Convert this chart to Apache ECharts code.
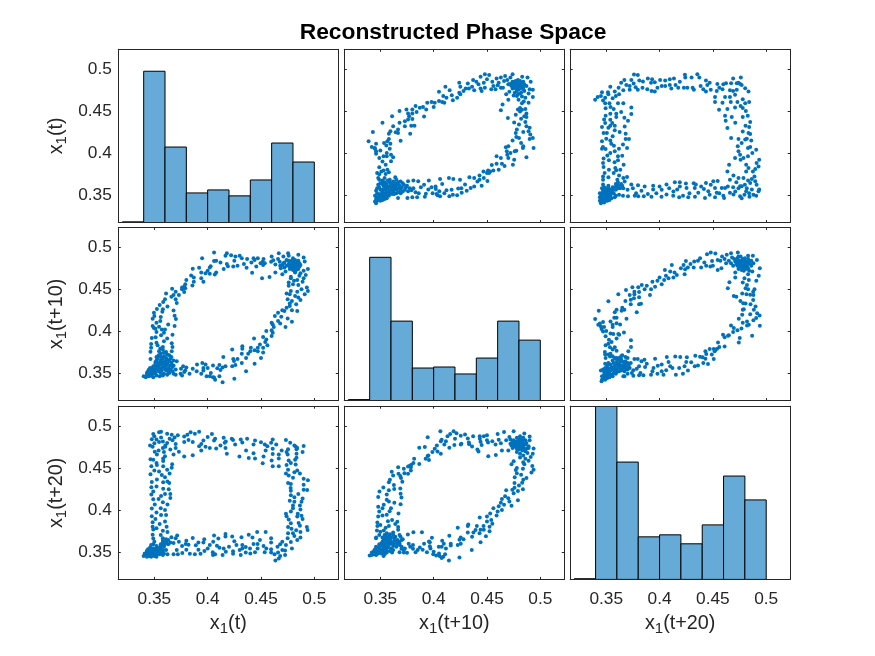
<!DOCTYPE html>
<html><head><meta charset="utf-8">
<script src="https://cdn.jsdelivr.net/npm/echarts@6/dist/echarts.min.js"></script>
<style>html,body{margin:0;padding:0;background:#fff}#c{width:875px;height:656px}</style></head>
<body><div id="c"></div><script>
const tickValues=[0.35,0.4,0.45,0.5];
const axisNames=[['x','(t)'],['x','(t+10)'],['x','(t+20)']];
const binEdges=[.32,.34,.36,.38,.40,.42,.44,.46,.48,.50];
const hist1=[.3178,.4976,.4071,.3523,.3559,.3488,.3678,.4119,.3892];
const hist2=[.3182,.4881,.4119,.3559,.3571,.3488,.3678,.4119,.3892];
const hist3=[.3178,.5238,.4571,.3678,.3702,.3595,.3821,.4404,.4119];
// x(t+10), x(t)
const pairsA=[[.339,.414],[.343,.425],[.352,.436],[.361,.444],[.368,.450],[.3745,.452],[.38,.452],[.383,.456],[.387,.454],[.390,.455],[.394,.460],[.398,.461],[.401,.460],[.405,.462],[.408,.461],[.405,.473],[.411,.479],[.415,.475],[.409,.468],[.412,.466],[.418,.463],[.422,.466],[.424,.484],[.425,.479],[.424,.472],[.425,.470],[.432,.483],[.430,.477],[.433,.477],[.437,.487],[.44,.485],[.444,.491],[.448,.494],[.452,.493],[.447,.484],[.438,.475],[.444,.477],[.448,.478],[.445,.474],[.454,.476],[.455,.485],[.459,.489],[.461,.484],[.458,.476],[.463,.478],[.465,.478],[.463,.490],[.466,.486],[.467,.492],[.470,.482],[.474,.494],[.483,.491],[.488,.490],[.491,.485],
[.373,.438],[.376,.440],[.380,.4405],[.376,.447],[.380,.447],[.391,.4435],[.382,.4325],[.379,.4325],[.373,.432],[.3666,.428],[.3666,.424],[.3644,.4247],[.3594,.426],[.358,.423],[.378,.423],[.369,.4147],[.358,.4167],[.3566,.414],[.3535,.412],[.3556,.409],[.3594,.411],[.3588,.405],[.346,.411],[.342,.407],[.3447,.406],[.346,.402],[.346,.399],[.356,.40],[.356,.396],[.360,.398],[.362,.395],[.349,.394],[.36,.390],[.352,.3897],[.355,.386],[.349,.383],[.353,.379],[.3566,.380],[.358,.377],[.349,.3746],[.354,.370],[.349,.368],[.3588,.368],[.3516,.3635],
[.346,.340],[.345,.342],[.347,.343],[.346,.345],[.348,.344],[.349,.346],[.347,.347],[.345,.349],[.349,.349],[.351,.348],[.352,.350],[.350,.351],[.347,.352],[.353,.347],[.354,.352],[.352,.354],[.355,.350],[.356,.353],[.355,.356],[.358,.354],[.357,.358],[.359,.352],[.360,.356],[.358,.360],[.361,.359],[.362,.354],[.363,.357],[.360,.362],[.362,.361],[.364,.360],[.365,.356],[.367,.358],[.366,.362],[.368,.361],[.369,.356],[.370,.359],[.372,.362],[.355,.360],[.353,.357],[.350,.356],[.349,.359],[.348,.362],[.352,.363],[.356,.363],[.359,.365],[.362,.366],[.365,.368],[.364,.371],
[.376,.3663],[.381,.367],[.3855,.3663],[.3955,.367],[.406,.369],[.4143,.3702],[.4184,.369],[.4247,.368],[.4335,.371],[.438,.370],[.443,.373],[.4467,.378],[.443,.368],[.4504,.3667],[.445,.361],[.451,.379],[.453,.378],[.450,.376],[.452,.376],[.4545,.3857],[.459,.387],[.461,.380],[.4665,.3845],[.4743,.386],[.459,.396],[.463,.394],[.4677,.4067],[.4686,.402],[.469,.398],[.4755,.392],[.4775,.4028],[.476,.402],[.487,.3948],[.4837,.406],[.482,.412],[.484,.408],[.4937,.406],[.474,.415],[.4775,.419],[.477,.424],[.478,.428],[.480,.434],[.4755,.4365],[.487,.432],[.490,.430],[.489,.426],[.4906,.422],[.490,.4167],[.493,.418],[.487,.443],[.477,.4456],[.485,.444],[.4696,.4417],[.463,.451],[.4646,.458],[.470,.4635],[.475,.4686],[.4828,.4595],[.4845,.4615],[.489,.460],[.493,.4667],[.493,.4754],[.481,.4536],[.4828,.4516],[.486,.4524],[.481,.4496],[.487,.447],[.4828,.4675],[.4796,.4635],[.482,.472],
[.3666,.3464],[.3754,.3464],[.380,.347],[.3845,.347],[.3917,.3476],[.3927,.3512],[.395,.3563],[.398,.359],[.4018,.360],[.4028,.351],[.4053,.3544],[.4037,.3496],[.406,.3484],[.4147,.3484],[.422,.3496],[.4263,.3524],[.412,.3556],[.4168,.356],[.423,.3575],[.4294,.3623],[.4347,.3583],[.408,.363],[.376,.3544],[.3792,.3556],[.381,.358],[.3776,.358],
[.471,.482],[.473,.480],[.474,.477],[.475,.483],[.476,.480],[.477,.482],[.477,.477],[.478,.484],[.478,.480],[.479,.478],[.480,.482],[.480,.476],[.481,.480],[.482,.484],[.482,.478],[.483,.481],[.484,.479],[.485,.482],[.476,.472],[.478,.474],[.479,.470],[.481,.471],[.477,.486],[.481,.486],[.484,.485],
[.354,.345],[.351,.345],[.350,.343],[.352,.344],[.356,.346],[.358,.349],[.361,.351],[.363,.351],[.365,.352],[.367,.353],[.369,.352],[.371,.354],[.373,.356],[.374,.359],[.375,.361],[.371,.364],[.369,.366],[.357,.367],[.354,.365],[.353,.361],[.350,.364],[.347,.358],[.346,.355],[.356,.349],[.361,.362],[.364,.364],[.367,.365],
[.383,.353],[.386,.352],[.388,.359],[.391,.362],[.399,.352],[.402,.357],[.410,.352],[.418,.350],[.426,.358],[.431,.355],[.438,.360],[.441,.366],[.447,.370],[.456,.379],[.464,.387],[.470,.394],[.472,.400],[.470,.408],[.480,.418],[.484,.425],[.486,.437],[.482,.441],[.479,.452],[.486,.466],[.489,.471],[.490,.476],[.468,.470],[.472,.490],[.469,.487],[.471,.473],[.478,.468],[.485,.474],[.487,.480],[.474,.485],[.473,.483],[.475,.479],[.476,.485],[.479,.487],[.480,.479],[.483,.477],[.484,.476],
[.345,.405],[.350,.403],[.353,.396],[.351,.378],[.355,.375],[.347,.376],[.348,.370],[.352,.367],[.362,.432],[.368,.436],[.377,.444],[.384,.449],[.393,.452],[.400,.455],[.410,.460],[.417,.469],[.428,.474],[.436,.479],[.442,.482],[.450,.488],[.456,.480],[.460,.481]];
// x(t+20), x(t)
const pairsB=[[.3396,.4635],[.342,.4667],[.346,.4726],[.347,.4627],[.3516,.4726],[.3538,.479],[.358,.4734],[.3616,.478],[.364,.484],[.366,.475],[.3735,.487],[.376,.4937],[.3796,.493],[.3757,.483],[.3688,.4813],[.372,.4754],[.3776,.4786],[.3796,.4754],[.381,.4865],[.3844,.4853],[.389,.489],[.393,.488],[.3885,.476],[.3925,.474],[.3955,.4734],[.398,.478],[.3955,.4845],[.4005,.487],[.4053,.4865],[.4096,.488],[.4135,.489],[.4053,.480],[.4096,.4813],[.415,.4813],[.4175,.478],[.4228,.478],[.426,.4778],[.4238,.4933],[.4241,.490],[.4354,.494],[.4373,.490],[.431,.478],[.4322,.4754],[.4385,.480],[.4435,.4865],[.4448,.4813],[.4435,.4734],[.448,.4754],[.4536,.474],[.4542,.4825],[.4598,.482],[.4623,.4833],[.4671,.4833],[.459,.476],[.452,.4667],[.452,.461],[.4558,.4516],[.459,.460],[.4614,.4667],[.466,.4667],[.4668,.461],[.4636,.4524],[.4614,.4444],[.462,.4385],[.4636,.4298],[.4677,.443],[.4708,.4544],[.4708,.4694],[.4671,.418],
[.4762,.490],[.4724,.4833],[.474,.484],[.4756,.4825],[.477,.4813],[.4803,.4774],[.4834,.4734],[.4724,.4754],[.478,.4643],[.4803,.4595],[.478,.4536],[.4809,.450],[.478,.443],[.4827,.4444],[.478,.4258],[.4806,.4325],[.4834,.4238],[.4818,.417],[.485,.4226],[.474,.4167],[.4803,.416],[.4733,.408],[.474,.402],[.4755,.398],[.4829,.406],[.485,.407],[.4906,.404],[.4708,.394],[.4787,.394],[.4829,.396],[.4934,.392],[.4928,.384],[.4652,.386],[.4812,.386],[.4636,.378],[.4693,.373],[.474,.370],[.4787,.370],[.4812,.378],[.4834,.382],[.4875,.378],[.4897,.381],[.4865,.369],[.4897,.3663],[.485,.3643],[.4934,.3563],[.4928,.3544],[.4906,.349],[.488,.350],[.4865,.3563],[.4812,.3544],[.4818,.358],[.477,.3603],[.474,.358],[.4755,.3603],
[.3695,.3714],[.3673,.366],[.3735,.3623],[.3798,.3615],[.386,.360],[.394,.361],[.400,.360],[.4065,.3623],[.4143,.365],[.419,.365],[.4247,.3635],[.434,.3623],[.4435,.3643],[.4504,.3663],[.4545,.3667],[.452,.3583],[.4583,.3583],[.469,.359],[.4614,.3583],
[.3657,.349],[.3704,.3484],[.3767,.349],[.380,.3484],[.3852,.3484],[.3924,.3476],[.4018,.3476],[.4065,.3504],[.4128,.349],[.4184,.3472],[.422,.349],[.4269,.3472],[.4332,.3476],[.4363,.3524],[.4426,.3464],[.452,.3472],[.4605,.3464],[.4693,.3504],[.4755,.3484],[.4843,.3476],[.394,.3563],[.4165,.3563],[.4253,.3583],[.433,.3583],[.4416,.357],[.4457,.3544],[.4536,.3524],[.4598,.349],[.466,.3524],[.4796,.350],
[.349,.4595],[.353,.4595],[.356,.4655],[.359,.468],[.361,.4595],[.366,.4595],[.3494,.4535],[.357,.4524],[.3538,.4468],[.3494,.4444],[.3594,.4468],[.3594,.443],[.3735,.4544],[.3735,.4464],[.3704,.4385],[.3673,.4317],[.3538,.4397],[.3556,.4357],[.349,.4357],[.3538,.4325],[.358,.4325],[.358,.427],[.3626,.425],[.3682,.423],[.3475,.4238],[.3506,.4238],[.3538,.415],[.346,.414],[.3682,.4167],[.3713,.4167],[.3547,.411],[.3572,.4087],[.3469,.407],[.3494,.4048],[.3619,.4052],[.3657,.410],[.3695,.406],[.3538,.40],[.3475,.3933],[.361,.396],[.365,.3968],[.361,.3913],[.3578,.3889],[.3525,.3913],[.3475,.3833],[.3663,.386],[.3525,.380],[.3585,.382],[.3594,.3794],[.3632,.380],[.3485,.3762],[.347,.372],[.3604,.368],[.347,.368],[.347,.3623],
[.345,.340],[.346,.342],[.347,.344],[.345,.345],[.346,.347],[.348,.346],[.349,.343],[.350,.345],[.347,.349],[.345,.350],[.349,.349],[.351,.348],[.352,.346],[.348,.351],[.346,.352],[.350,.352],[.352,.350],[.354,.349],[.349,.354],[.347,.355],[.351,.355],[.353,.353],[.355,.352],[.357,.352],[.354,.356],[.350,.358],[.352,.358],[.357,.356],[.359,.356],[.356,.359],[.358,.359],[.361,.358],[.360,.361],[.362,.361],[.363,.358],[.365,.361],[.364,.363],[.359,.363],[.361,.365],[.348,.359],[.352,.361],[.359,.349],[.362,.350],
[.346,.405],[.351,.397],[.358,.402],[.350,.417],[.356,.420],[.346,.431],[.352,.430],[.347,.388],[.352,.371],[.357,.376],[.362,.373],[.366,.370],[.348,.440],[.354,.455],[.364,.449],[.367,.442],[.352,.470],[.362,.470],[.349,.466],[.345,.468],
[.367,.487],[.372,.480],[.384,.478],[.392,.484],[.402,.480],[.411,.477],[.419,.485],[.430,.490],[.441,.476],[.447,.484],[.456,.478],[.466,.475],[.469,.489],
[.469,.474],[.473,.461],[.476,.456],[.484,.461],[.485,.437],[.484,.431],[.471,.436],[.477,.412],[.486,.415],[.476,.392],[.487,.400],[.491,.388],[.466,.368],[.472,.365],[.480,.362],[.483,.367],[.489,.372],[.491,.362],
[.366,.358],[.370,.356],[.375,.358],[.378,.352],[.383,.355],[.389,.351],[.397,.352],[.402,.356],[.409,.358],[.413,.354],[.419,.360],[.428,.352],[.432,.364],[.439,.360],[.447,.350],[.448,.362],[.456,.352],[.464,.360],[.471,.354],[.477,.346],[.484,.352],
[.344,.343],[.344,.347],[.348,.341],[.351,.343],[.353,.344],[.355,.346],[.349,.356],[.346,.358],[.353,.348],[.355,.355],[.350,.348],[.347,.351],[.344,.352],[.358,.347]];
// x(t+20), x(t+10)
const pairsC=[[.3396,.4143],[.343,.4242],[.352,.4357],[.3613,.444],[.3685,.449],[.3745,.4524],[.380,.4524],[.3764,.447],[.3764,.444],[.3808,.4468],[.376,.4393],[.373,.4373],[.3808,.4405],[.373,.432],[.3808,.432],[.3826,.4325],[.391,.4432],[.3786,.4226],[.369,.4147],[.367,.4254],[.3644,.4242],[.3597,.4254],[.358,.4226],[.3575,.416],[.3597,.416],[.354,.4115],[.356,.4075],[.3597,.4095],[.356,.4048],[.347,.4107],[.3425,.4075],[.345,.4056],[.3456,.4024],[.347,.3996],[.3494,.3937],[.3566,.3964],[.3613,.3964],[.3666,.3984],[.3622,.3956],[.3525,.3897],[.3597,.391],[.355,.387],[.3494,.383],[.3535,.3806],[.358,.3806],[.3597,.3766],[.3732,.389],[.3732,.381],[.3707,.3758],[.365,.371],[.3487,.375],[.3535,.3698],[.3494,.368],[.3597,.368],[.3629,.366],
[.3833,.455],[.388,.454],[.3933,.459],[.3958,.453],[.398,.46],[.40,.464],[.4043,.461],[.405,.473],[.4084,.463],[.41,.471],[.4115,.479],[.413,.464],[.4162,.467],[.424,.4738],[.4247,.4837],[.4225,.479],[.4235,.468],[.4265,.4758],[.4325,.483],[.432,.4758],[.438,.487],[.439,.476],[.4437,.478],[.4445,.4917],[.448,.4937],[.4523,.4925],[.4492,.4837],[.4476,.477],[.4545,.485],[.4545,.473],[.458,.475],[.4586,.489],[.463,.491],[.465,.484],[.4624,.481],[.467,.4929],[.467,.481],[.4734,.4937],[.483,.490],[.4875,.490],[.4913,.485],[.494,.475],[.493,.466],[.4907,.46],[.483,.468],[.471,.464],[.4655,.4583],[.464,.4512],[.4696,.442],[.4758,.436],[.4785,.4333],[.4806,.433],[.4853,.432],[.4878,.437],[.488,.4432],[.4878,.447],[.4775,.445],[.4815,.444],[.485,.4433],[.4806,.451],[.482,.455],[.4796,.463],[.4837,.461],
[.49,.4294],[.4884,.4254],[.4915,.4214],[.4938,.4187],[.4906,.4155],[.478,.4254],[.4775,.4194],[.4743,.4147],[.482,.4115],[.4837,.4075],[.482,.4067],[.494,.4063],[.467,.4067],[.4696,.4036],[.469,.3988],[.4768,.403],[.4868,.3944],[.4595,.3956],[.461,.3925],[.4642,.3944],[.4548,.3865],[.461,.3817],[.4752,.3917],[.4743,.3865],[.4508,.3786],[.4523,.3774],[.454,.379],[.4517,.376],[.447,.3786],[.443,.376],[.4438,.3726],[.4404,.3687],[.4335,.3706],[.438,.3694],[.443,.367],[.4508,.3667],[.4454,.3607],[.436,.359],[.4297,.3627],[.433,.358],
[.3858,.3659],[.3958,.367],[.4068,.369],[.4147,.3698],[.4194,.369],[.4256,.3687],[.3764,.3667],[.3795,.3667],[.3808,.358],[.3864,.3571],[.3943,.356],[.3983,.3587],[.402,.36],[.4084,.3631],[.4121,.356],[.4184,.356],[.4234,.358],[.4266,.3528],[.4219,.3492],[.4153,.348],[.4037,.348],[.402,.352],[.4062,.3532],[.392,.348],[.3933,.352],[.3848,.3472],[.3808,.3472],[.3754,.3468],[.366,.346],[.3754,.3532],[.3786,.355],
[.3456,.340],[.346,.342],[.347,.344],[.348,.343],[.346,.346],[.349,.346],[.350,.345],[.348,.348],[.351,.348],[.352,.347],[.350,.350],[.348,.351],[.353,.350],[.355,.348],[.352,.352],[.350,.353],[.354,.353],[.357,.350],[.359,.349],[.356,.354],[.353,.355],[.351,.356],[.355,.357],[.358,.355],[.360,.354],[.358,.358],[.361,.357],[.363,.356],[.365,.354],[.366,.357],[.368,.355],[.360,.360],[.362,.360],[.364,.359],[.367,.360],[.369,.358],[.371,.359],[.357,.362],[.360,.363],[.363,.363],[.366,.363],[.368,.364],[.364,.366],[.360,.366],[.356,.365],[.351,.359],[.349,.361],[.368,.369],[.370,.368],[.364,.370],
[.471,.483],[.472,.480],[.473,.478],[.474,.482],[.475,.477],[.475,.484],[.476,.480],[.477,.483],[.477,.478],[.478,.481],[.478,.476],[.479,.484],[.479,.479],[.480,.482],[.480,.477],[.481,.480],[.482,.483],[.482,.478],[.483,.481],[.484,.483],[.485,.480],[.473,.487],[.476,.489],[.478,.486],[.474,.474],[.477,.473],[.479,.472],[.481,.474],[.483,.475],[.486,.478],
[.353,.345],[.351,.344],[.349,.342],[.356,.346],[.358,.352],[.360,.351],[.362,.352],[.364,.353],[.367,.352],[.370,.354],[.373,.362],[.372,.356],[.374,.350],[.370,.349],[.367,.346],[.352,.362],[.354,.360],[.349,.356],[.347,.354],[.345,.353],[.358,.368],[.356,.370],[.352,.372],[.362,.368],
[.470,.486],[.474,.489],[.480,.487],[.483,.486],[.486,.484],[.488,.481],[.476,.475],[.475,.481],[.479,.482],[.481,.476],[.473,.484],[.469,.478],[.484,.472],[.487,.471],
[.386,.450],[.392,.450],[.402,.456],[.406,.466],[.414,.470],[.420,.475],[.429,.480],[.436,.484],[.442,.482],[.450,.478],[.457,.484],[.461,.486],[.468,.488],[.471,.470],[.478,.458],[.483,.450],[.489,.450],[.472,.441],[.479,.426],[.485,.420],[.488,.413],[.478,.410],[.473,.401],[.465,.395],[.456,.381],[.449,.372],[.441,.362],[.425,.363],[.410,.358],[.398,.349],[.388,.361],[.382,.350],[.370,.362],[.383,.364],[.344,.409],[.348,.405],[.350,.400],[.354,.397],[.352,.385],[.356,.378],[.349,.372],[.354,.373],[.363,.408],[.365,.428],[.372,.443],[.368,.436]];

const xLim=[0.3162,0.5225], yLim=[0.317,0.5238];
const colLeft=[118.3,344.3,570.2], rowTop=[49.3,227.4,406.2];
const panelW=220, panelH=173.2;
const ink='#262626', dot='#0072BD', barFill='#66AAD7';
const swap=a=>a.map(p=>[p[1],p[0]]);
const cells=[[hist1,pairsA,pairsB],[swap(pairsA),hist2,pairsC],[swap(pairsB),swap(pairsC),hist3]];
const subName=n=>`{n|${n[0]}}{s|1}{n|${n[1]}}`;
const nameRich={n:{fontFamily:'Liberation Sans',fontSize:19.8,color:ink},s:{fontFamily:'Liberation Sans',fontSize:15,color:ink,padding:[10,0,0,0]}};
const grid=[],xAxis=[],yAxis=[],series=[];
function ax(kind,g,mirror,r,c,isHist){
  const isX=kind==='x',lim=isX?xLim:yLim;
  const showLabel=!mirror&&(isX?r===2:c===0);
  const o={type:'value',gridIndex:g,min:lim[0],max:lim[1],position:isX?(mirror?'top':'bottom'):(mirror?'right':'left'),
    splitLine:{show:false},
    axisLine:{show:true,onZero:false,lineStyle:{color:ink,width:1}},
    axisTick:{show:!isHist,inside:true,length:2.5,customValues:tickValues,lineStyle:{color:ink,width:1}},
    axisLabel:{show:showLabel,customValues:tickValues,margin:isX?11:6.5,padding:isX?0:[4,0,0,0],color:ink,fontFamily:'Liberation Sans',fontSize:17.3},
    silent:true,z:5};
  if(showLabel){
    o.name=subName(axisNames[isX?c:r]);o.nameLocation='middle';o.nameGap=isX?32:49;
    o.nameTextStyle={rich:nameRich};
    if(!isX)o.nameRotate=90;
  }
  return o;
}
for(let r=0;r<3;r++)for(let c=0;c<3;c++){
  const g=grid.length,isHist=r===c;
  grid.push({left:colLeft[c],top:rowTop[r],width:panelW,height:panelH});
  const xi=xAxis.length,yi=yAxis.length;
  xAxis.push(ax('x',g,false,r,c,isHist),ax('x',g,true,r,c,isHist));
  yAxis.push(ax('y',g,false,r,c,isHist),ax('y',g,true,r,c,isHist));
  if(isHist){
    const vals=cells[r][c];
    series.push({type:'custom',xAxisIndex:xi,yAxisIndex:yi,clip:true,silent:true,
      data:vals.map((v,i)=>[binEdges[i],binEdges[i+1],v]),
      encode:{x:[0,1],y:2},
      renderItem:(p,api)=>{
        const a=api.coord([api.value(0),api.value(2)]),b=api.coord([api.value(1),yLim[0]]);
        return {type:'rect',shape:{x:a[0],y:a[1],width:b[0]-a[0],height:b[1]-a[1]},
          style:{fill:barFill,stroke:'#000',lineWidth:1}};
      }});
  }else{
    series.push({type:'scatter',xAxisIndex:xi,yAxisIndex:yi,data:cells[r][c],symbol:'circle',symbolSize:4,
      itemStyle:{color:dot,opacity:1},silent:true});
  }
}
const chart=echarts.init(document.getElementById('c'),null,{renderer:'canvas'});
chart.setOption({animation:false,backgroundColor:'#fff',
  title:{text:'Reconstructed Phase Space',left:448,top:16,textAlign:'center',
    textStyle:{fontFamily:'Liberation Sans',fontSize:22.8,fontWeight:'bold',color:'#000'}},
  grid,xAxis,yAxis,series});
</script></body></html>
